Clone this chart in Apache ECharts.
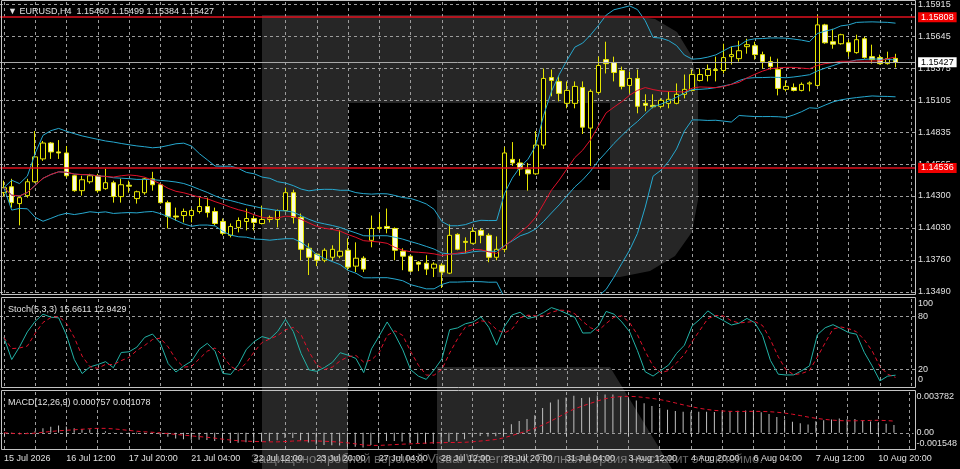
<!DOCTYPE html>
<html>
<head>
<meta charset="utf-8">
<script src="https://cdn.jsdelivr.net/npm/echarts@6/dist/echarts.min.js"></script>
<style>
html, body { margin: 0; padding: 0; background: #000; }
#chart { width: 960px; height: 469px; }
</style>
</head>
<body>
<div id="chart"></div>
<script>
// EURUSD H4 bars
var symbolName = 'EURUSD,H4';
var opens = [1.14327,1.14377,1.14235,1.14302,1.14419,1.14612,1.14746,1.14671,1.14662,1.14470,
  1.14344,1.14419,1.14470,1.14361,1.14411,1.14294,1.14390,1.14277,1.14327,1.14444,
  1.14394,1.14243,1.14130,1.14134,1.14134,1.14168,1.14210,1.14168,1.14084,1.13967,
  1.14034,1.14084,1.14109,1.14067,1.14101,1.14101,1.14176,1.14327,1.14118,1.13858,
  1.13808,1.13757,1.13782,1.13791,1.13841,1.13707,1.13774,1.13925,1.14025,1.14042,
  1.14025,1.13833,1.13791,1.13740,1.13732,1.13690,1.13715,1.13648,1.13975,1.13916,
  1.13900,1.14009,1.13967,1.13782,1.13849,1.14608,1.14578,1.14520,1.14486,1.14729,
  1.15299,1.15266,1.15081,1.15081,1.15215,1.14872,1.15173,1.15450,1.15425,1.15358,
  1.15232,1.15291,1.15081,1.15064,1.15056,1.15081,1.15081,1.15157,1.15190,1.15274,
  1.15316,1.15358,1.15358,1.15475,1.15458,1.15559,1.15567,1.15492,1.15433,1.15366,
  1.15199,1.15215,1.15190,1.15245,1.15232,1.15743,1.15601,1.15584,1.15592,1.15509,
  1.15626,1.15475,1.15467,1.15416,1.15460];
var highs = [1.14428,1.14444,1.14302,1.14444,1.14847,1.14763,1.14754,1.14771,1.14721,1.14478,
  1.14470,1.14486,1.14486,1.14528,1.14428,1.14444,1.14428,1.14344,1.14453,1.14503,
  1.14403,1.14260,1.14201,1.14193,1.14193,1.14285,1.14285,1.14201,1.14109,1.14067,
  1.14118,1.14193,1.14134,1.14218,1.14134,1.14185,1.14369,1.14352,1.14151,1.13900,
  1.13816,1.13858,1.13883,1.14009,1.13942,1.13908,1.13791,1.14134,1.14151,1.14193,
  1.14034,1.13858,1.13799,1.13749,1.13799,1.13740,1.13732,1.14059,1.13984,1.13950,
  1.14034,1.14025,1.13984,1.13958,1.14713,1.14754,1.14612,1.14578,1.14847,1.15375,
  1.15366,1.15308,1.15266,1.15266,1.15266,1.15199,1.15475,1.15601,1.15475,1.15391,
  1.15349,1.15366,1.15157,1.15157,1.15123,1.15182,1.15249,1.15324,1.15366,1.15375,
  1.15408,1.15475,1.15584,1.15559,1.15609,1.15626,1.15601,1.15517,1.15475,1.15458,
  1.15274,1.15249,1.15257,1.15266,1.15827,1.15752,1.15710,1.15668,1.15618,1.15660,
  1.15643,1.15576,1.15492,1.15517,1.15499];
var lows = [1.14294,1.14201,1.14051,1.14285,1.14411,1.14595,1.14612,1.14612,1.14453,1.14335,
  1.14302,1.14403,1.14327,1.14352,1.14243,1.14243,1.14327,1.14235,1.14310,1.14344,
  1.14235,1.14025,1.14092,1.14076,1.14076,1.14151,1.14118,1.14051,1.13967,1.13950,
  1.13992,1.14009,1.14009,1.14059,1.14076,1.14034,1.14168,1.14067,1.13757,1.13632,
  1.13707,1.13740,1.13757,1.13774,1.13673,1.13657,1.13657,1.13866,1.14009,1.13984,
  1.13757,1.13673,1.13657,1.13665,1.13632,1.13615,1.13523,1.13640,1.13841,1.13816,
  1.13891,1.13900,1.13740,1.13757,1.13824,1.14553,1.14470,1.14344,1.14478,1.14696,
  1.15140,1.15098,1.15039,1.15039,1.14822,1.14553,1.15157,1.15333,1.15266,1.15199,
  1.15165,1.14997,1.15014,1.15039,1.15039,1.15039,1.15073,1.15123,1.15182,1.15266,
  1.15266,1.15266,1.15333,1.15408,1.15433,1.15500,1.15450,1.15375,1.15366,1.15148,
  1.15182,1.15182,1.15182,1.15182,1.15224,1.15584,1.15542,1.15576,1.15475,1.15500,
  1.15458,1.15416,1.15408,1.15408,1.15384];
var closes = [1.14369,1.14243,1.14285,1.14419,1.14629,1.14746,1.14671,1.14662,1.14470,1.14344,
  1.14436,1.14470,1.14344,1.14411,1.14294,1.14394,1.14382,1.14335,1.14444,1.14394,
  1.14243,1.14126,1.14122,1.14168,1.14176,1.14210,1.14159,1.14067,1.13984,1.14042,
  1.14092,1.14109,1.14076,1.14101,1.14118,1.14176,1.14327,1.14118,1.13849,1.13782,
  1.13757,1.13841,1.13849,1.13833,1.13699,1.13774,1.13682,1.14025,1.14034,1.14025,
  1.13841,1.13791,1.13665,1.13724,1.13682,1.13724,1.13657,1.13967,1.13849,1.13908,
  1.14000,1.13967,1.13782,1.13849,1.14662,1.14578,1.14528,1.14486,1.14729,1.15291,
  1.15274,1.15165,1.15190,1.15224,1.14880,1.15182,1.15400,1.15416,1.15341,1.15224,
  1.15291,1.15056,1.15064,1.15052,1.15106,1.15115,1.15157,1.15199,1.15324,1.15324,
  1.15366,1.15366,1.15467,1.15492,1.15525,1.15576,1.15492,1.15433,1.15391,1.15207,
  1.15224,1.15190,1.15241,1.15253,1.15743,1.15592,1.15580,1.15660,1.15517,1.15618,
  1.15467,1.15450,1.15416,1.15458,1.15427];

var priceTicks = [1.13490, 1.13760, 1.14030, 1.14300, 1.14565, 1.14835, 1.15105, 1.15375, 1.15645, 1.15915];
var levelPrices = [1.15808, 1.14536];
var bidPrice = 1.15427;
var stochTicks = [0, 20, 80, 100];
var stochLevels = [20, 80];
var macdTicks = [-0.001548, 0, 0.003782];
var stochTitle = 'Stoch(5,3,3) 15.6611 12.9429';
var macdTitle = 'MACD(12,26,9) 0.000757 0.001078';
var watermarkText = 'Защищено пробной версией Visual Watermark. Полная версия не ставит это клеймо.';

var FONT = "'Liberation Sans', 'DejaVu Sans', sans-serif";
var TXT = '#e0e0e0';
var GRIDC = '#9c9c9c';
var DASH = { color: GRIDC, type: [3, 3], width: 1 };

// H4 time axis, weekends skipped, 2 empty slots on the right
var months = ['Jan','Feb','Mar','Apr','May','Jun','Jul','Aug','Sep','Oct','Nov','Dec'];
var cats = [];
var t = Date.UTC(2026, 6, 15, 4);
while (cats.length < closes.length + 2) {
    var d = new Date(t);
    var wd = d.getUTCDay();
    if (wd !== 0 && wd !== 6) {
        var hh = ('0' + d.getUTCHours()).slice(-2);
        cats.push(d.getUTCDate() + ' ' + months[d.getUTCMonth()] + ' ' + hh + ':00');
    }
    t += 4 * 3600 * 1000;
}
var firstLabel = '15 Jul 2026';

// indicators
function smaPartial(src, p) {
    return src.map(function (v, i) {
        var s = 0, n = 0;
        for (var j = Math.max(0, i - p + 1); j <= i; j++) { s += src[j]; n++; }
        return s / n;
    });
}
function ema(src, p) {
    var k = 2 / (p + 1), prev = src[0];
    return src.map(function (v, i) {
        prev = i === 0 ? v : prev + k * (v - prev);
        return prev;
    });
}
var bbMid = smaPartial(closes, 20);
var bbUp = [], bbLow = [];
closes.forEach(function (c, i) {
    var from = Math.max(0, i - 19), n = i - from + 1, v = 0;
    for (var j = from; j <= i; j++) v += Math.pow(closes[j] - bbMid[i], 2);
    var sd = Math.sqrt(v / n);
    bbUp.push(bbMid[i] + 2 * sd);
    bbLow.push(bbMid[i] - 2 * sd);
});
var ma14 = smaPartial(closes, 14);

var num = [], den = [];
closes.forEach(function (c, i) {
    var hi = -Infinity, lo = Infinity;
    for (var j = Math.max(0, i - 4); j <= i; j++) { hi = Math.max(hi, highs[j]); lo = Math.min(lo, lows[j]); }
    num.push(c - lo); den.push(hi - lo);
});
var stochMain = closes.map(function (c, i) {
    var a = 0, b = 0;
    for (var j = Math.max(0, i - 2); j <= i; j++) { a += num[j]; b += den[j]; }
    return b === 0 ? 50 : 100 * a / b;
});
var stochSig = smaPartial(stochMain, 3);

var e12 = ema(closes, 12), e26 = ema(closes, 26);
var macdMain = e12.map(function (v, i) { return v - e26[i]; });
var macdSig = smaPartial(macdMain, 9);

var candleData = closes.map(function (c, i) { return [opens[i], c, lows[i], highs[i]]; });

function every(n) { return function (idx) { return idx % n === 0; }; }
function xAxisFor(gi, labels) {
    return {
        type: 'category', gridIndex: gi, data: cats, boundaryGap: true,
        axisLine: { show: false },
        axisTick: { show: labels, alignWithLabel: true, interval: every(8), length: 3, lineStyle: { color: '#c8c8c8' } },
        axisLabel: {
            show: labels, interval: every(8), align: 'left', margin: 5,
            color: TXT, fontSize: 9, fontFamily: FONT,
            formatter: function (v, idx) { return idx === 0 ? firstLabel : v; }
        },
        splitLine: { show: true, interval: every(4), alignWithLabel: true, lineStyle: DASH }
    };
}
var lblStyle = { color: TXT, fontSize: 9, fontFamily: FONT };
function shifted(padTop, padBottom) {
    return Object.assign({ padding: [padTop, 0, padBottom, 0] }, lblStyle);
}
function levelLine(p, lineColor, width, txtColor, boxColor) {
    return {
        yAxis: p,
        lineStyle: { color: lineColor, width: width, type: 'solid' },
        label: { show: true, position: 'end', distance: 3, formatter: p.toFixed(5), color: txtColor,
                 backgroundColor: boxColor, padding: [1, 3, 0, 3], fontSize: 9, fontFamily: FONT }
    };
}

var chart = echarts.init(document.getElementById('chart'));

var WM = '#262626';
var option = {
    backgroundColor: '#000000',
    animation: false,
    textStyle: { fontFamily: FONT },
    title: [
        {
            text: '\u25BC ' + symbolName + '  ' + [opens, highs, lows, closes].map(function (a) { return a[a.length - 1].toFixed(5); }).join(' '),
            left: 3, top: 2, textStyle: { color: TXT, fontSize: 9, fontWeight: 'normal', fontFamily: FONT }
        },
        { text: stochTitle, left: 3, top: 300, textStyle: { color: TXT, fontSize: 9, fontWeight: 'normal', fontFamily: FONT } },
        { text: macdTitle, left: 3, top: 393, textStyle: { color: TXT, fontSize: 9, fontWeight: 'normal', fontFamily: FONT } }
    ],
    grid: [
        { left: -2.22, right: 44.9, top: 0, height: 294 },
        { left: -2.22, right: 44.9, top: 299, height: 87.8 },
        { left: -2.22, right: 44.9, top: 392, height: 57.5 }
    ],
    xAxis: [xAxisFor(0, false), xAxisFor(1, false), xAxisFor(2, true)],
    yAxis: [
        {
            type: 'value', gridIndex: 0, position: 'right', min: 1.13472, max: 1.15936,
            axisLine: { show: false },
            axisTick: { show: false, customValues: priceTicks },
            splitLine: { show: true, lineStyle: DASH },
            axisLabel: {
                customValues: priceTicks, margin: 3, color: TXT, fontSize: 9, fontFamily: FONT,
                formatter: function (v) { return v.toFixed(5); }
            }
        },
        {
            type: 'value', gridIndex: 1, position: 'right', min: 0, max: 100,
            axisLine: { show: false },
            axisTick: { show: false, customValues: stochLevels },
            splitLine: { show: true, lineStyle: DASH },
            axisLabel: {
                customValues: stochTicks, margin: 3,
                formatter: function (v) {
                    if (v === 100) return '{dn|' + v + '}';
                    if (v === 0) return '{up|' + v + '}';
                    return '{n|' + v + '}';
                },
                rich: { n: lblStyle, dn: shifted(10, 0), up: shifted(0, 14) }
            }
        },
        {
            type: 'value', gridIndex: 2, position: 'right', min: macdTicks[0], max: macdTicks[2],
            axisLine: { show: false },
            axisTick: { show: false, customValues: [0] },
            splitLine: { show: true, lineStyle: DASH },
            axisLabel: {
                customValues: macdTicks, margin: 3,
                formatter: function (v) {
                    if (v === 0) return '{n|0.00}';
                    if (v > 0) return '{dn|' + v.toFixed(6) + '}';
                    return '{up|' + v.toFixed(6) + '}';
                },
                rich: { n: lblStyle, dn: shifted(10, 0), up: shifted(0, 12) }
            }
        }
    ],
    graphic: [
        // faint logo watermark behind the chart
        { type: 'rect', z: 0, silent: true, shape: { x: 262, y: 15, width: 86, height: 454 }, style: { fill: WM } },
        { type: 'polygon', z: 0, silent: true,
          shape: { points: [[348, 15], [625, 15], [655, 19], [677, 32], [691, 55], [698, 85], [698, 200], [692, 232], [675, 256], [650, 271], [620, 277], [437, 277], [437, 190], [610, 190], [610, 103], [348, 103]] },
          style: { fill: WM } },
        { type: 'polygon', z: 0, silent: true, shape: { points: [[437, 367], [610, 367], [672, 469], [437, 469]] }, style: { fill: WM } },
        // panel frames
        { type: 'rect', z: 10, silent: true, shape: { x: 1.5, y: 0.5, width: 914, height: 294 }, style: { fill: 'none', stroke: '#c4c4c4', lineWidth: 1 } },
        { type: 'rect', z: 10, silent: true, shape: { x: 1.5, y: 297.5, width: 914, height: 90 }, style: { fill: 'none', stroke: '#c4c4c4', lineWidth: 1 } },
        { type: 'rect', z: 10, silent: true, shape: { x: 1.5, y: 390.5, width: 914, height: 59 }, style: { fill: 'none', stroke: '#c4c4c4', lineWidth: 1 } },
        { type: 'text', z: 100, silent: true, left: 251, top: 453,
          style: { text: watermarkText, fill: 'rgba(190,190,190,0.55)', font: '13px ' + FONT } }
    ],
    series: [
        {
            name: 'bars', type: 'candlestick', xAxisIndex: 0, yAxisIndex: 0, data: candleData, barWidth: 5, z: 2,
            itemStyle: { color: '#000000', color0: '#fbfbdc', borderColor: '#e6e600', borderColor0: '#e6e600', borderWidth: 1 }
        },
        { name: 'bb up', type: 'line', xAxisIndex: 0, yAxisIndex: 0, data: bbUp, symbol: 'none', z: 3, lineStyle: { color: '#26a8cf', width: 1 } },
        { name: 'bb mid', type: 'line', xAxisIndex: 0, yAxisIndex: 0, data: bbMid, symbol: 'none', z: 3, lineStyle: { color: '#26a8cf', width: 1 } },
        { name: 'bb low', type: 'line', xAxisIndex: 0, yAxisIndex: 0, data: bbLow, symbol: 'none', z: 3, lineStyle: { color: '#26a8cf', width: 1 } },
        {
            name: 'ma', type: 'line', xAxisIndex: 0, yAxisIndex: 0, data: ma14, symbol: 'none', z: 4, lineStyle: { color: '#e0102a', width: 1 },
            markLine: {
                symbol: 'none', silent: true, animation: false, precision: 5,
                data: [levelLine(bidPrice, '#a8a8a8', 1, '#000000', '#ffffff')].concat(levelPrices.map(function (p) {
                    return levelLine(p, '#e0101e', 1.5, '#ffffff', '#f00000');
                }))
            }
        },
        { name: 'stoch', type: 'line', xAxisIndex: 1, yAxisIndex: 1, data: stochMain, symbol: 'none', z: 3, lineStyle: { color: '#22b2a6', width: 1 } },
        { name: 'stoch sig', type: 'line', xAxisIndex: 1, yAxisIndex: 1, data: stochSig, symbol: 'none', z: 3, lineStyle: { color: '#e0102a', width: 1, type: [4, 3] } },
        { name: 'macd', type: 'bar', xAxisIndex: 2, yAxisIndex: 2, data: macdMain, barWidth: 1, z: 3, itemStyle: { color: '#c0c0c0' } },
        { name: 'macd sig', type: 'line', xAxisIndex: 2, yAxisIndex: 2, data: macdSig, symbol: 'none', z: 4, lineStyle: { color: '#e0102a', width: 1, type: [4, 3] } }
    ]
};

chart.setOption(option);
</script>
</body>
</html>
